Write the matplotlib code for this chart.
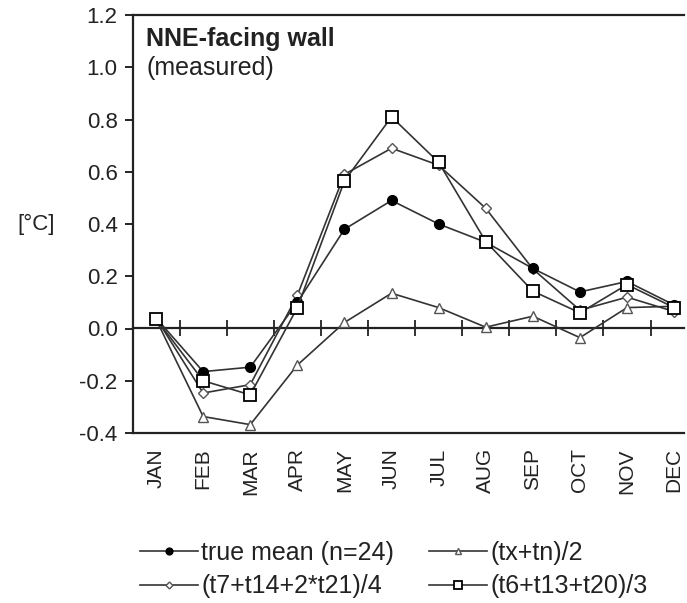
import numpy as np
import matplotlib
matplotlib.use("Agg")
import matplotlib.pyplot as plt

plt.rcParams['font.family'] = ['Liberation Sans', 'DejaVu Sans']

# monthly deviations [°C]
months = ["JAN", "FEB", "MAR", "APR", "MAY", "JUN",
          "JUL", "AUG", "SEP", "OCT", "NOV", "DEC"]
true_mean = [0.04, -0.165, -0.148, 0.10, 0.38, 0.49, 0.40, 0.33, 0.23, 0.14, 0.18, 0.09]
txtn = [0.035, -0.337, -0.368, -0.14, 0.023, 0.135, 0.08, 0.005, 0.047, -0.035, 0.08, 0.085]
t7_t14_t21 = [0.04, -0.247, -0.215, 0.127, 0.59, 0.69, 0.625, 0.46, 0.228, 0.07, 0.12, 0.065]
t6_t13_t20 = [0.037, -0.20, -0.254, 0.08, 0.565, 0.81, 0.636, 0.333, 0.143, 0.06, 0.168, 0.08]

labels = ["true mean (n=24)", "(t7+t14+2*t21)/4", "(tx+tn)/2", "(t6+t13+t20)/3"]
yticks = [-0.4, -0.2, 0.0, 0.2, 0.4, 0.6, 0.8, 1.0, 1.2]

W, H = 687, 603
fig = plt.figure(figsize=(W / 100, H / 100), dpi=100)
ax = fig.add_axes([133 / W, 1 - 433 / H, (684 - 133) / W, (433 - 15) / H])

x = np.arange(len(months))
lc = '#333333'
txt = '#222222'

l_tri, = ax.plot(x, txtn, color=lc, lw=1.2, marker='^', ms=7, mfc='white',
                 mec='#555555', mew=1.0, zorder=3)
l_dia, = ax.plot(x, t7_t14_t21, color=lc, lw=1.2, marker='D', ms=5, mfc='white',
                 mec='#555555', mew=1.0, zorder=4)
l_true, = ax.plot(x, true_mean, color=lc, lw=1.2, marker='o', ms=7, mfc='black',
                  mec='black', zorder=5)
l_sq, = ax.plot(x, t6_t13_t20, color=lc, lw=1.2, marker='s', ms=8.5, mfc='white',
                mec='black', mew=1.3, zorder=6)

ax.set_xlim(-0.49, 11.21)
ax.set_ylim(-0.4, 1.2)
ax.set_yticks(yticks)
ax.set_yticklabels([f"{v:.1f}" for v in yticks])
ax.set_xticks(x)
ax.set_xticklabels(months, rotation=90)
ax.tick_params(axis='x', length=0, pad=11, labelsize=15, labelcolor=txt)
ax.tick_params(axis='y', length=6, width=1.2, pad=5, labelsize=16, labelcolor=txt)

for s in ['left', 'top', 'bottom']:
    ax.spines[s].set_linewidth(1.6)
    ax.spines[s].set_color('#222222')
ax.spines['right'].set_visible(False)

# zero line with month-boundary ticks
zero = ax.secondary_xaxis(0.25)
zero.set_xticks(x[:-1] + 0.5)
zero.set_xticklabels([])
zero.tick_params(direction='inout', length=11, width=1.3, color='#222222')
zero.spines['bottom'].set_linewidth(1.6)
zero.spines['bottom'].set_color('#222222')

ax.set_ylabel("[°C]", rotation=0, fontsize=16, color=txt, ha='center', va='center')
ax.yaxis.set_label_coords(-0.175, 0.5)

ax.text(0.024, 0.972, "NNE-facing wall", transform=ax.transAxes, fontsize=18,
        fontweight='bold', color=txt, ha='left', va='top')
ax.text(0.024, 0.903, "(measured)", transform=ax.transAxes, fontsize=18,
        color=txt, ha='left', va='top')

fig.legend([l_true, l_dia, l_tri, l_sq], labels, ncol=2, frameon=False,
           loc='upper left', bbox_to_anchor=(140 / W, 1 - 541 / H),
           borderaxespad=0, fontsize=18, handlelength=2.3, handletextpad=0.15,
           columnspacing=1.4, labelspacing=0.38, markerscale=0.7, borderpad=0,
           labelcolor=txt)

fig.savefig("out.png", dpi=100)
